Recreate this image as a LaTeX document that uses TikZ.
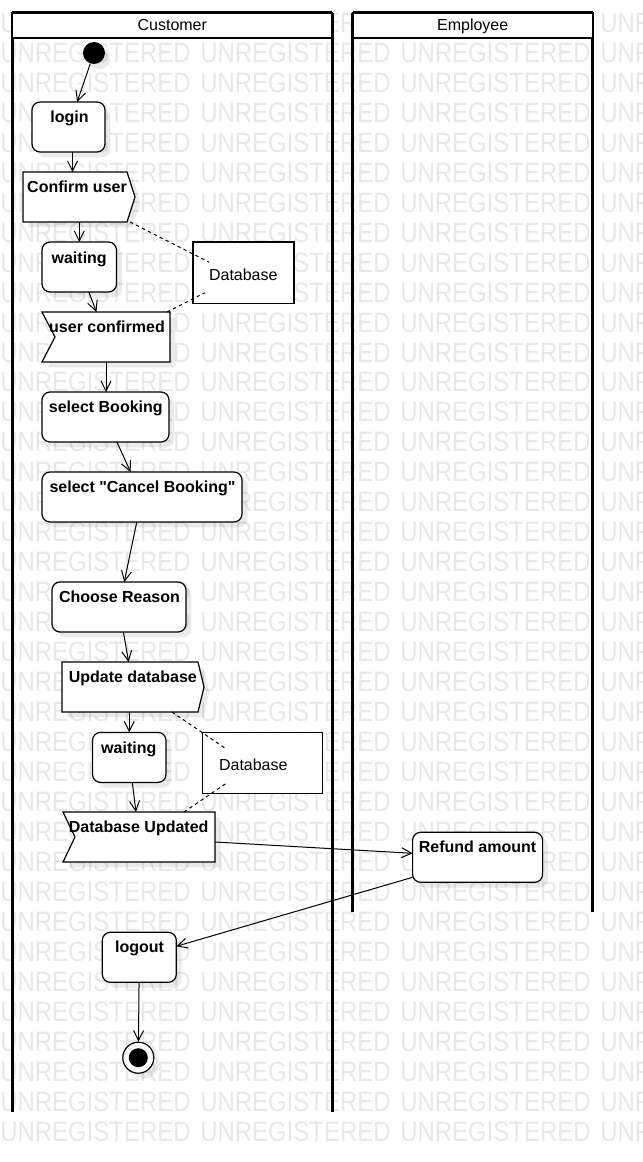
\documentclass[tikz,border=0pt]{standalone}
\usepackage{fontspec}
\setmainfont{Liberation Sans}[Ligatures=TeXOff]
\usepackage{graphicx}
\usetikzlibrary{arrows.meta,shadows}
\definecolor{wmc}{RGB}{232,232,232}
\begin{document}
\begin{tikzpicture}[x=0.75pt,y=-0.75pt,
  wmk/.style={anchor=west,inner sep=0,text=wmc,font=\fontsize{21}{21}\selectfont},
  shd/.style={drop shadow={shadow xshift=4pt,shadow yshift=-4pt,fill=black,opacity=0.08}},
  act/.style 2 args={draw,line width=0.9pt,rounded corners=6pt,fill=white,
    minimum width={#1*0.75pt},minimum height={#2*0.75pt},inner sep=0,outer sep=0,shd},
  obj/.style 2 args={draw,line width=0.9pt,fill=white,
    minimum width={#1*0.75pt},minimum height={#2*0.75pt},inner sep=0,outer sep=0},
  bnd/.style 2 args={minimum width={#1*0.75pt},minimum height={#2*0.75pt},inner sep=0,outer sep=0},
  sig/.style={draw,line width=0.9pt,fill=white,line join=miter,shd},
  lbl/.style={anchor=base,inner sep=0,font=\bfseries\fontsize{12}{14}\selectfont},
  txt/.style={anchor=base,inner sep=0,font=\fontsize{12}{14}\selectfont},
  hdr/.style 2 args={draw,line width=1.6pt,fill=white,
    minimum width={#1*0.75pt},minimum height={#2*0.75pt},inner sep=0,outer sep=0},
  lane/.style={line width=2.25pt},
  arr/.style={draw,line width=0.75pt,-{Straight Barb[length=7.5pt,width=7.5pt]}},
  dsh/.style={draw,line width=0.75pt,dash pattern=on 2.5pt off 2.5pt}]
\useasboundingbox (0,0) rectangle (642,1162);
\fill[white] (0,0) rectangle (642,1162);
% watermark
\begin{scope}
\clip (0,0) rectangle (642,1162);
\foreach \k in {0,...,37}{
  \foreach \i in {0,1,2,3}{
    \node[wmk] (wm\k-\i) at ({\i*200},{22.7+29.97*\k}) {\scalebox{0.856}[1]{UNREGISTERED}};
  }
}
\end{scope}
% swimlanes
\draw[lane] (12.3,12.7) -- (12.3,1112);
\draw[lane] (332.3,12.7) -- (332.3,1112);
\draw[lane] (352.7,12.7) -- (352.7,912);
\draw[lane] (592.7,12.7) -- (592.7,912);
\node[hdr={320}{25.6}] (cust) at (172.3,25.5) {};
\node[hdr={240}{25.6}] (empl) at (472.7,25.5) {};
\draw[lane] (cust.north west) -- (cust.north east);
\draw[lane] (empl.north west) -- (empl.north east);
\node[txt] (custl) at (172.3,30.5) {Customer};
\node[txt] (empll) at (472.7,30.5) {Employee};
% nodes
\node[circle,fill=black,minimum size=16.5pt,inner sep=0,shd] (start) at (94,53) {};
\node[act={73}{50}] (login) at (68.5,127) {};
\node[bnd={112}{50}] (confirm) at (79,197) {};
\draw[sig] (confirm.north west) -- ([xshift=-6pt]confirm.north east) -- (confirm.east)
  -- ([xshift=-6pt]confirm.south east) -- (confirm.south west) -- cycle;
\node[act={74.5}{50}] (waiting1) at (79.25,267) {};
\node[obj={101}{61.5}] (db1) at (243.5,272.75) {};
\node[bnd={128}{50}] (userconf) at (106,337) {};
\draw[sig] (userconf.north west) -- (userconf.north east) -- (userconf.south east)
  -- (userconf.south west) -- ([xshift=9.75pt]userconf.west) -- cycle;
\node[act={127}{50}] (selbook) at (105.5,417) {};
\node[act={200}{50}] (cancel) at (142,497) {};
\node[act={134}{50}] (reason) at (119,607) {};
\node[bnd={142}{50}] (update) at (133,687) {};
\draw[sig] (update.north west) -- ([xshift=-4.5pt]update.north east) -- (update.east)
  -- ([xshift=-4.5pt]update.south east) -- (update.south west) -- cycle;
\node[act={73.5}{50}] (waiting2) at (129.25,757.4) {};
\node[obj={120}{61}] (db2) at (262.3,762.8) {};
\node[bnd={152}{50}] (dbupd) at (139,837) {};
\draw[sig] (dbupd.north west) -- (dbupd.north east) -- (dbupd.south east)
  -- (dbupd.south west) -- ([xshift=9pt]dbupd.west) -- cycle;
\node[act={130}{50}] (refund) at (477.6,857.3) {};
\node[act={74}{50}] (logout) at (139.3,957.3) {};
\node[circle,draw,line width=0.9pt,fill=white,minimum size=23.25pt,inner sep=0,shd] (fin) at (138.3,1057.7) {};
\node[circle,fill=black,minimum size=14.25pt,inner sep=0] (finin) at (fin) {};
% dashed object links
\draw[dsh] ([xshift=-3.75pt]confirm.south east) -- ([xshift=12pt,yshift=8pt]db1.west);
\draw[dsh] ([xshift=-2.25pt]userconf.north east) -- ([xshift=9pt,yshift=-15pt]db1.west);
\draw[dsh] ([xshift=-24pt]update.south east) -- ([xshift=18.5pt,yshift=10pt]db2.west);
\draw[dsh] ([xshift=-23.25pt]dbupd.north east) -- ([xshift=18.5pt,yshift=-15pt]db2.west);
% control flow
\draw[arr] (start) -- (login);
\draw[arr] ([xshift=3pt]login.south) -- ([xshift=3pt]login.south |- confirm.north);
\draw[arr] (waiting1.north |- confirm.south) -- (waiting1.north);
\draw[arr] (waiting1) -- (userconf);
\draw[arr] (userconf.south) -- (userconf.south |- selbook.north);
\draw[arr] (selbook) -- (cancel);
\draw[arr] (cancel) -- (reason);
\draw[arr] (reason) -- (update);
\draw[arr] (waiting2.north |- update.south) -- (waiting2.north);
\draw[arr] (waiting2) -- (dbupd);
\draw[arr] ([yshift=-3.75pt]dbupd.east) -- ([yshift=3pt]refund.west);
\draw[arr] ([yshift=3.75pt]refund.south west) -- ([yshift=8.25pt]logout.east);
\draw[arr] (logout) -- (fin);
% labels
\node[lbl] (loginl) at (69.5,122.7) {login};
\node[lbl] (confirml) at (77,193) {Confirm user};
\node[lbl] (waiting1l) at (79.2,263.3) {waiting};
\node[txt] (db1l) at (243.3,281) {Database};
\node[lbl] (userconfl) at (107,332.7) {user confirmed};
\node[lbl] (selbookl) at (105.8,412.5) {select Booking};
\node[lbl] (cancell) at (142.5,492.5) {select "Cancel Booking"};
\node[lbl] (reasonl) at (119.5,602.7) {Choose Reason};
\node[lbl] (updatel) at (132.8,682.7) {Update database};
\node[lbl] (waiting2l) at (128.8,753.3) {waiting};
\node[txt] (db2l) at (253.3,770.7) {Database};
\node[lbl] (dbupdl) at (138.7,832.7) {Database Updated};
\node[lbl] (refundl) at (477.5,852.8) {Refund amount};
\node[lbl] (logoutl) at (139.5,952.7) {logout};
\end{tikzpicture}
\end{document}
